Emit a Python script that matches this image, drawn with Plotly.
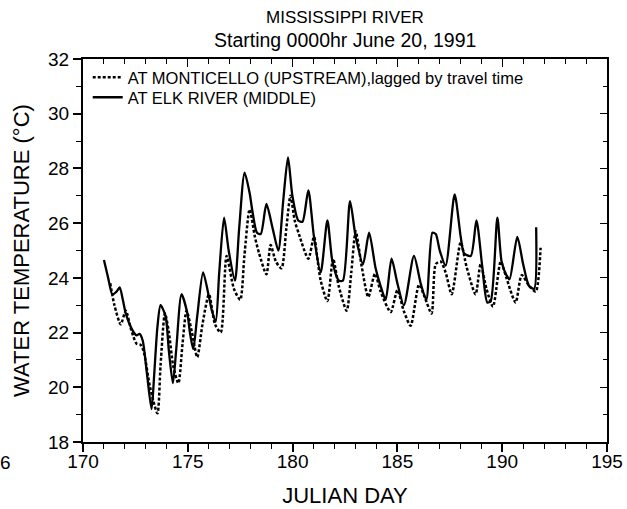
import plotly.graph_objects as go

# Elk River (middle) hourly-temperature trace, read at turning points
elk_day = [171.0, 171.2, 171.4, 171.6, 171.75, 171.9, 172.04, 172.35, 172.55, 172.7,
           172.85, 173.05, 173.27, 173.4, 173.55, 173.7, 173.94, 174.1, 174.29, 174.45,
           174.7, 174.98, 175.1, 175.26, 175.45, 175.73, 176.01, 176.15, 176.33, 176.5,
           176.73, 176.95, 177.25, 177.45, 177.71, 177.95, 178.08, 178.3, 178.48, 178.75,
           179.05, 179.32, 179.55, 179.78, 179.99, 180.27, 180.47, 180.75, 181.02, 181.34,
           181.66, 181.9, 182.21, 182.4, 182.74, 183.01, 183.36, 183.65, 183.96, 184.2,
           184.44, 184.72, 185.0, 185.31, 185.79, 186.11, 186.38, 186.67, 186.83, 187.02,
           187.3, 187.73, 188.02, 188.18, 188.5, 188.77, 189.05, 189.29, 189.45, 189.77,
           189.97, 190.2, 190.35, 190.72, 191.0, 191.28, 191.52, 191.62]
elk_temp = [24.65, 24.0, 23.4, 23.5, 23.65, 23.2, 22.7, 22.1, 21.9, 21.95,
            21.7, 20.5, 19.2, 20.5, 22.2, 23.0, 22.6, 21.3, 20.15, 21.4,
            23.4, 22.7, 22.0, 21.4, 22.6, 24.2, 23.3, 22.8, 22.4, 24.2,
            26.2, 25.0, 23.9, 25.8, 27.85, 27.1, 26.45, 25.65, 25.6, 26.7,
            25.8, 25.0, 26.8, 28.4, 27.0, 26.1, 26.05, 27.2, 25.5, 24.2,
            26.1, 24.6, 23.9, 23.9, 26.8, 25.5, 24.5, 25.65, 24.35, 23.7,
            23.2, 24.7, 23.8, 23.0, 24.8, 23.8, 23.2, 25.65, 25.6, 25.0,
            24.45, 27.05, 25.5, 24.9, 24.8, 26.1, 24.4, 23.1, 23.15, 26.2,
            24.6, 24.1, 23.95, 25.5, 24.5, 23.7, 23.6, 25.85]

# Monticello (upstream) trace, shifted by the travel time to Elk River
mon_day = [171.3, 171.5, 171.8, 172.04, 172.3, 172.55, 172.75, 172.9, 173.2, 173.55,
           173.7, 173.91, 174.1, 174.3, 174.55, 174.75, 174.94, 175.2, 175.45, 175.7,
           176.01, 176.3, 176.57, 176.85, 177.2, 177.5, 177.7, 177.95, 178.2, 178.4,
           178.75, 178.95, 179.2, 179.47, 179.7, 179.9, 180.1, 180.3, 180.75, 181.02,
           181.2, 181.34, 181.66, 181.93, 182.2, 182.58, 182.8, 183.01, 183.3, 183.61,
           183.93, 184.2, 184.68, 185.0, 185.3, 185.63, 186.03, 186.3, 186.63, 186.83,
           187.06, 187.3, 187.59, 188.02, 188.3, 188.73, 188.97, 189.25, 189.56, 189.93,
           190.2, 190.64, 190.93, 191.3, 191.6, 191.83]
mon_temp = [23.8, 23.0, 22.3, 22.8, 22.1, 21.6, 21.55, 21.3, 20.0, 19.05,
            20.8, 22.7, 22.0, 20.8, 20.15, 21.6, 22.8, 22.0, 21.1, 22.3,
            23.4, 22.3, 22.0, 24.8, 23.6, 23.2, 24.8, 26.5, 25.5, 24.9,
            24.13, 25.2, 24.6, 24.35, 25.8, 27.0, 26.1, 25.6, 24.7, 25.5,
            24.6, 23.9, 23.15, 24.7, 23.7, 22.8, 24.2, 25.7, 24.4, 23.3,
            24.15, 23.5, 22.75, 23.55, 22.8, 22.25, 23.75, 23.3, 22.7, 24.5,
            24.6, 24.2, 23.4, 25.3, 24.4, 23.4, 24.5, 23.6, 22.95, 24.6,
            24.0, 23.1, 24.1, 23.7, 23.5, 25.1]

x_range = [170, 195]
y_range = [18, 32]

FONT = "Liberation Sans"
W, H = 627, 509
ML, MR, MT, MB = 83, 20, 59, 67
PH = H - MT - MB

fig = go.Figure()

fig.add_trace(go.Scatter(
    x=mon_day, y=mon_temp, mode="lines",
    name="AT MONTICELLO (UPSTREAM),lagged by travel time",
    line=dict(color="black", width=2.5, dash="3px,2px", shape="spline", smoothing=0.7),
    xaxis="x2", yaxis="y2", legend="legend",
))
fig.add_trace(go.Scatter(
    x=elk_day, y=elk_temp, mode="lines",
    name="AT ELK RIVER (MIDDLE)",
    line=dict(color="black", width=2.3, shape="spline", smoothing=0.7),
    legend="legend2",
))

tickfont = dict(family=FONT, size=19, color="black")
legfont = dict(family=FONT, size=16.5, color="black")


def legend_box(center_px):
    # legend anchored by its top edge so the entry text is centred on center_px
    top = center_px - 17
    return dict(x=0.009, y=1 - (top - MT) / PH, xanchor="left", yanchor="top",
                font=legfont, bgcolor="rgba(0,0,0,0)", borderwidth=0, itemwidth=30)


fig.update_layout(
    width=W, height=H,
    margin=dict(l=ML, r=MR, t=MT, b=MB, autoexpand=False),
    paper_bgcolor="white", plot_bgcolor="white",
    showlegend=True,
    legend=legend_box(77),
    legend2=legend_box(97),
    xaxis=dict(
        range=x_range, tick0=170, dtick=5, ticks="outside", ticklen=8, tickwidth=1.5,
        tickcolor="black", showline=True, linecolor="black", linewidth=2.2,
        showgrid=False, zeroline=False, tickfont=tickfont, ticklabelstandoff=-7,
        automargin=False,
        minor=dict(dtick=1, ticks="outside", ticklen=5, tickwidth=1.2, tickcolor="black", showgrid=False),
        title=dict(text="JULIAN DAY", font=dict(family=FONT, size=22, color="black"), standoff=17),
    ),
    yaxis=dict(
        range=y_range, tick0=18, dtick=2, ticks="outside", ticklen=8, tickwidth=1.5,
        tickcolor="black", showline=True, linecolor="black", linewidth=2,
        showgrid=False, zeroline=False, tickfont=tickfont, automargin=False,
        minor=dict(dtick=1, ticks="outside", ticklen=5, tickwidth=1.2, tickcolor="black", showgrid=False),
        title=dict(text="WATER TEMPERATURE (°C)", font=dict(family=FONT, size=22, color="black"), standoff=12),
    ),
    xaxis2=dict(
        range=x_range, overlaying="x", side="top", anchor="y2", tick0=170, dtick=5,
        ticks="inside", ticklen=8, tickwidth=1.3, tickcolor="black", showticklabels=False,
        minor=dict(dtick=1, ticks="inside", ticklen=5, tickwidth=1.2, tickcolor="black", showgrid=False),
        showline=True, linecolor="black", linewidth=2, showgrid=False, zeroline=False,
        automargin=False,
    ),
    yaxis2=dict(
        range=y_range, overlaying="y", side="right", anchor="x2", tick0=18, dtick=2,
        ticks="inside", ticklen=7, tickwidth=1.3, tickcolor="black", showticklabels=False,
        minor=dict(dtick=1, ticks="inside", ticklen=4, tickwidth=1.1, tickcolor="black", showgrid=False),
        showline=True, linecolor="black", linewidth=2, showgrid=False, zeroline=False,
        automargin=False,
    ),
    annotations=[
        dict(text="MISSISSIPPI RIVER", xref="paper", yref="paper", x=0.5, y=1.0,
             yshift=MT - 17, xanchor="center", yanchor="middle", showarrow=False,
             font=dict(family=FONT, size=17, color="black")),
        dict(text="Starting 0000hr June 20, 1991", xref="paper", yref="paper", x=0.5, y=1.0,
             yshift=MT - 40, xanchor="center", yanchor="middle", showarrow=False,
             font=dict(family=FONT, size=19.5, color="black")),
        dict(text="6", xref="paper", yref="paper", x=0, y=0, xshift=-ML + 13, yshift=-20,
             xanchor="right", yanchor="middle", showarrow=False,
             font=dict(family=FONT, size=19, color="black")),
    ],
)

fig.write_html("out.html")
